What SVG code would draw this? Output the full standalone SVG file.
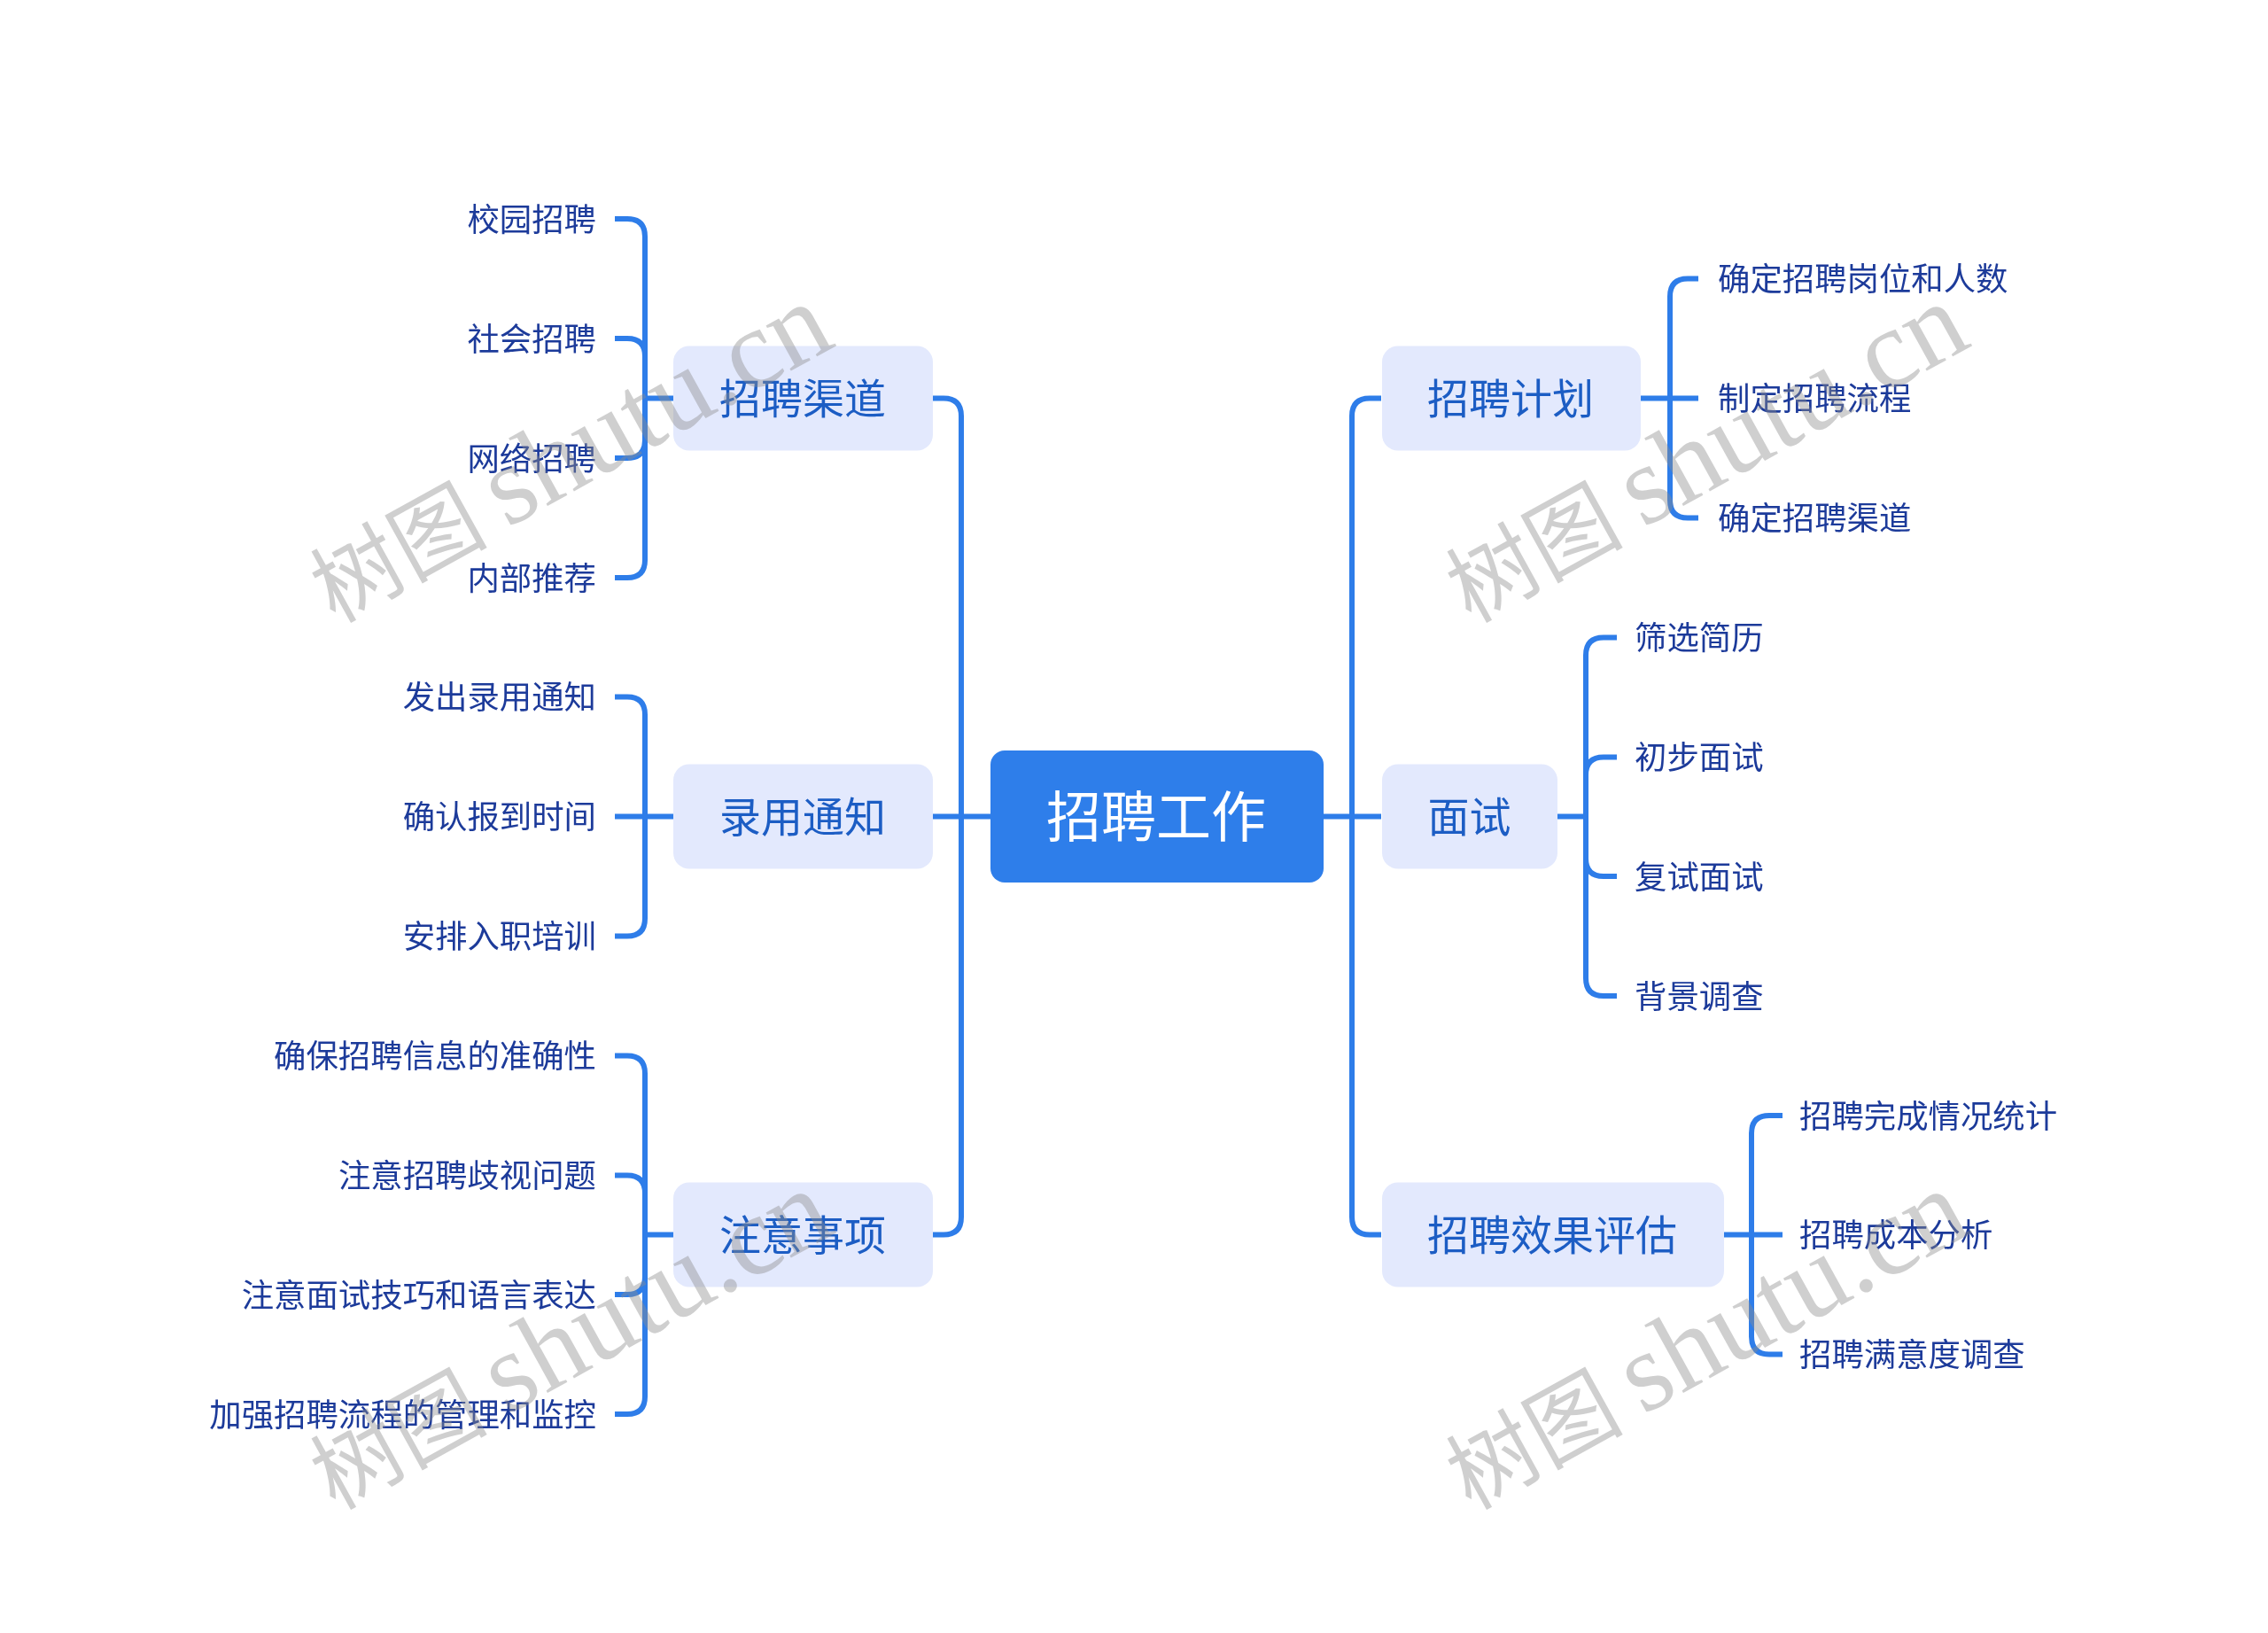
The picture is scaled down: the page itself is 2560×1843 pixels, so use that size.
<svg xmlns="http://www.w3.org/2000/svg" width="2560" height="1843" viewBox="0 0 2560 1843">
<style>
text{font-family:"Noto Sans CJK SC","Noto Sans",sans-serif;dominant-baseline:central}
.c{fill:none;stroke:#2f7de9;stroke-width:6;stroke-linecap:butt}
.root{fill:#2f7eea}
.root-t{fill:#fff;font-size:62px;text-anchor:middle}
.m{fill:#e3e9fd}
.m-t{fill:#1c5dc4;font-size:47px;text-anchor:middle}
.l{fill:#1e3a9a;font-size:36.4px;text-anchor:end}
.r{fill:#1e3a9a;font-size:36.4px;text-anchor:start}
.w{fill:#8c8c8c;fill-opacity:.42;font-family:"Noto Sans CJK SC",serif;font-size:100px;dominant-baseline:auto}
.wl{font-family:"Liberation Serif",serif;font-size:127px}
</style>
<defs><filter id="soft" x="0" y="0" width="100%" height="100%"><feGaussianBlur stdDeviation="0.7"/></filter></defs>
<rect width="2560" height="1843" fill="#fff"/>
<g filter="url(#soft)">
<g id="connectors">
<path class="c" d="M1053 449.5H1065Q1085 449.5 1085 469.5V1373.5Q1085 1393.5 1065 1393.5H1053"/>
<path class="c" d="M1053 921.5H1118"/>
<path class="c" d="M1559 449.5H1546Q1526 449.5 1526 469.5V1373.5Q1526 1393.5 1546 1393.5H1559"/>
<path class="c" d="M1494 921.5H1559"/>
<path class="c" d="M694 247H708Q728 247 728 267V632Q728 652 708 652H694"/>
<path class="c" d="M694 382H708Q728 382 728 402V449.5"/>
<path class="c" d="M694 517H708Q728 517 728 497V449.5"/>
<path class="c" d="M728 449.5H760"/>
<path class="c" d="M694 786.5H708Q728 786.5 728 806.5V1036.5Q728 1056.5 708 1056.5H694"/>
<path class="c" d="M694 921.5H760"/>
<path class="c" d="M694 1191.5H708Q728 1191.5 728 1211.5V1576Q728 1596 708 1596H694"/>
<path class="c" d="M694 1326.5H708Q728 1326.5 728 1346.5V1393.5"/>
<path class="c" d="M694 1461H708Q728 1461 728 1441V1393.5"/>
<path class="c" d="M728 1393.5H760"/>
<path class="c" d="M1917 314.5H1905Q1885 314.5 1885 334.5V564.5Q1885 584.5 1905 584.5H1917"/>
<path class="c" d="M1852 449.5H1917"/>
<path class="c" d="M1825 719.5H1810Q1790 719.5 1790 739.5V1104Q1790 1124 1810 1124H1825"/>
<path class="c" d="M1825 854.5H1810Q1790 854.5 1790 874.5V921.5"/>
<path class="c" d="M1825 989H1810Q1790 989 1790 969V921.5"/>
<path class="c" d="M1758 921.5H1790"/>
<path class="c" d="M2012 1259H1997Q1977 1259 1977 1279V1508.5Q1977 1528.5 1997 1528.5H2012"/>
<path class="c" d="M1946 1393.5H2012"/>
</g>
<g id="root"><rect class="root" x="1118" y="847" width="376" height="149" rx="16"/><text class="root-t" x="1305" y="918">招聘工作</text></g>
<g id="n1"><rect class="m" x="760" y="390.5" width="293" height="118" rx="18"/><text class="m-t" x="906" y="446.5">招聘渠道</text></g>
<g id="n2"><rect class="m" x="760" y="862.5" width="293" height="118" rx="18"/><text class="m-t" x="906" y="918.5">录用通知</text></g>
<g id="n3"><rect class="m" x="760" y="1334.5" width="293" height="118" rx="18"/><text class="m-t" x="906" y="1390.5">注意事项</text></g>
<g id="n4"><rect class="m" x="1560" y="390.5" width="292" height="118" rx="18"/><text class="m-t" x="1705" y="446.5">招聘计划</text></g>
<g id="n5"><rect class="m" x="1560" y="862.5" width="198" height="118" rx="18"/><text class="m-t" x="1658.5" y="918.5">面试</text></g>
<g id="n6"><rect class="m" x="1560" y="1334.5" width="386" height="118" rx="18"/><text class="m-t" x="1752" y="1390.5">招聘效果评估</text></g>
<g id="leaf-left">
<g id="l1"><text class="l" x="673" y="244.5">校园招聘</text></g>
<g id="l2"><text class="l" x="673" y="379.5">社会招聘</text></g>
<g id="l3"><text class="l" x="673" y="514.5">网络招聘</text></g>
<g id="l4"><text class="l" x="673" y="649.5">内部推荐</text></g>
<g id="l5"><text class="l" x="673" y="784">发出录用通知</text></g>
<g id="l6"><text class="l" x="673" y="919">确认报到时间</text></g>
<g id="l7"><text class="l" x="673" y="1054">安排入职培训</text></g>
<g id="l8"><text class="l" x="673" y="1189">确保招聘信息的准确性</text></g>
<g id="l9"><text class="l" x="673" y="1324">注意招聘歧视问题</text></g>
<g id="l10"><text class="l" x="673" y="1458.5">注意面试技巧和语言表达</text></g>
<g id="l11"><text class="l" x="673" y="1593.5">加强招聘流程的管理和监控</text></g>
</g>
<g id="leaf-right">
<g id="r1"><text class="r" x="1939" y="312">确定招聘岗位和人数</text></g>
<g id="r2"><text class="r" x="1939" y="447">制定招聘流程</text></g>
<g id="r3"><text class="r" x="1939" y="582">确定招聘渠道</text></g>
<g id="r4"><text class="r" x="1845" y="717">筛选简历</text></g>
<g id="r5"><text class="r" x="1845" y="852">初步面试</text></g>
<g id="r6"><text class="r" x="1845" y="986.5">复试面试</text></g>
<g id="r7"><text class="r" x="1845" y="1121.5">背景调查</text></g>
<g id="r8"><text class="r" x="2031" y="1256.5">招聘完成情况统计</text></g>
<g id="r9"><text class="r" x="2031" y="1391">招聘成本分析</text></g>
<g id="r10"><text class="r" x="2031" y="1526">招聘满意度调查</text></g>
</g>
</g>
<g id="watermarks">
<text class="w" transform="translate(378 704) rotate(-29)">树图 <tspan class="wl">shutu.cn</tspan></text>
<text class="w" transform="translate(1660 704) rotate(-29)">树图 <tspan class="wl">shutu.cn</tspan></text>
<text class="w" transform="translate(378 1705) rotate(-29)">树图 <tspan class="wl">shutu.cn</tspan></text>
<text class="w" transform="translate(1660 1705) rotate(-29)">树图 <tspan class="wl">shutu.cn</tspan></text>
</g>
</svg>
